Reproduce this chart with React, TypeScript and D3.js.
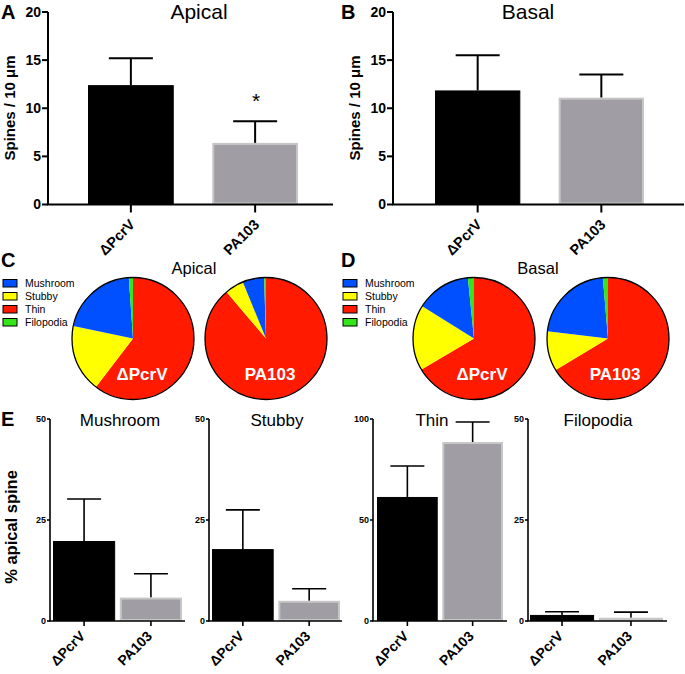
import React from "react";
import * as d3 from "d3";

// ---------- DATA ----------
const groups = ["ΔPcrV", "PA103"];

// Panel A/B: spine density (spines / 10 µm), mean and error (SEM)
const apicalDensity = [12.4, 6.4];
const apicalDensityErr = [2.8, 2.25];
const basalDensity = [11.85, 11.1];
const basalDensityErr = [3.65, 2.4];
const densityTicks = [0, 5, 10, 15, 20];

// Panel C/D: spine type fractions (%)
const spineTypes = ["Mushroom", "Stubby", "Thin", "Filopodia"];
const pieApicalPcrV = [20.6, 17.9, 60.4, 1.1];
const pieApicalPA103 = [5.7, 5.0, 88.8, 0.5];
const pieBasalPcrV = [14.5, 17.4, 66.5, 1.6];
const pieBasalPA103 = [21.75, 10.5, 66.4, 1.35];
// clockwise drawing order from 12 o'clock
const pieOrder = ["Thin", "Stubby", "Mushroom", "Filopodia"];

// Panel E: % apical spine by type, [ΔPcrV, PA103]
const mushroomPct = [19.8, 5.8];
const mushroomErr = [10.4, 5.9];
const stubbyPct = [17.8, 5.0];
const stubbyErr = [9.7, 3.0];
const thinPct = [61.4, 88.6];
const thinErr = [15.3, 9.9];
const filopodiaPct = [1.5, 0.8];
const filopodiaErr = [0.8, 1.4];
const pctTicks50 = [0, 25, 50];
const pctTicks100 = [0, 50, 100];

// ---------- STYLE ----------
const FONT = "Arial, 'Liberation Sans', Helvetica, sans-serif";
const typeColors: Record<string, string> = {
  Mushroom: "#0050ff",
  Stubby: "#ffff00",
  Thin: "#ff1a00",
  Filopodia: "#33e61a",
};
const barFill = ["#000000", "#a09ea4"];
const barStroke = ["#000000", "#c6c6c6"];

type BarProps = {
  values: number[];
  errors: number[];
  ticks: number[];
  axisX: number;
  top: number;
  bottom: number;
  axisEnd: number;
  bandStart: number;
  bandEnd: number;
  pad: number;
  capW: number;
  lw: number;
  tickFont: number;
  tickLen: number;
  xTickLen: number;
  labelDx: number;
  labelDy: number;
  labelFont: number;
  title: string;
  titleX: number;
  titleY: number;
  titleFont: number;
};

function BarPanel(p: BarProps) {
  const y = d3
    .scaleLinear()
    .domain([0, p.ticks[p.ticks.length - 1]])
    .range([p.bottom, p.top]);
  const x = d3
    .scaleBand<string>()
    .domain(groups)
    .range([p.bandStart, p.bandEnd])
    .paddingInner(p.pad)
    .paddingOuter(0);
  const bw = x.bandwidth();
  return (
    <g fontFamily={FONT}>
      {groups.map((g, i) => {
        const x0 = x(g)!;
        const sw = i === 0 ? 1 : 2;
        return (
          <g key={g}>
            <line
              x1={x0 + bw / 2}
              x2={x0 + bw / 2}
              y1={y(p.values[i])}
              y2={y(p.values[i] + p.errors[i])}
              stroke="#000"
              strokeWidth={p.lw}
            />
            <line
              x1={x0 + bw / 2 - p.capW / 2}
              x2={x0 + bw / 2 + p.capW / 2}
              y1={y(p.values[i] + p.errors[i])}
              y2={y(p.values[i] + p.errors[i])}
              stroke="#000"
              strokeWidth={p.lw}
            />
            <rect
              x={x0 + sw / 2}
              y={y(p.values[i]) + sw / 2}
              width={bw - sw}
              height={Math.max(0, p.bottom - y(p.values[i]) - sw)}
              fill={barFill[i]}
              stroke={barStroke[i]}
              strokeWidth={sw}
            />
          </g>
        );
      })}
      {/* y axis */}
      <line x1={p.axisX} x2={p.axisX} y1={p.top} y2={p.bottom} stroke="#000" strokeWidth={p.lw} />
      {p.ticks.map((t) => (
        <g key={t}>
          <line
            x1={p.axisX - p.tickLen}
            x2={p.axisX}
            y1={y(t)}
            y2={y(t)}
            stroke="#000"
            strokeWidth={p.lw}
          />
          <text
            x={p.axisX - p.tickLen - 1}
            y={y(t)}
            dy="0.35em"
            textAnchor="end"
            fontWeight="bold"
            fontSize={p.tickFont}
          >
            {t}
          </text>
        </g>
      ))}
      {/* x axis */}
      <line x1={p.axisX - p.lw / 2} x2={p.axisEnd} y1={p.bottom} y2={p.bottom} stroke="#000" strokeWidth={p.lw} />
      {groups.map((g) => {
        const cx = x(g)! + bw / 2;
        return (
          <g key={g}>
            <line x1={cx} x2={cx} y1={p.bottom} y2={p.bottom + p.xTickLen} stroke="#000" strokeWidth={p.lw} />
            <text
              transform={`translate(${cx + p.labelDx},${p.bottom + p.labelDy}) rotate(-45)`}
              textAnchor="end"
              fontWeight="bold"
              fontSize={p.labelFont}
            >
              {g}
            </text>
          </g>
        );
      })}
      <text x={p.titleX} y={p.titleY} textAnchor="middle" fontSize={p.titleFont}>
        {p.title}
      </text>
    </g>
  );
}

function Pie({ cx, cy, r, values, label, ldx }: { cx: number; cy: number; r: number; values: number[]; label: string; ldx: number }) {
  const data = pieOrder.map((name) => ({ name, v: values[spineTypes.indexOf(name)] }));
  const arcs = d3
    .pie<{ name: string; v: number }>()
    .sort(null)
    .value((d) => d.v)(data);
  const arc = d3.arc<d3.PieArcDatum<{ name: string; v: number }>>().innerRadius(0).outerRadius(r);
  return (
    <g transform={`translate(${cx},${cy})`}>
      {arcs.map((a) => (
        <path key={a.data.name} d={arc(a) || ""} fill={typeColors[a.data.name]} />
      ))}
      <circle r={r} fill="none" stroke="#000" strokeWidth={1.3} />
      <text x={ldx} y={41.5} textAnchor="middle" fill="#fff" fontWeight="bold" fontSize={17} fontFamily={FONT}>
        {label}
      </text>
    </g>
  );
}

function Legend({ x, y }: { x: number; y: number }) {
  return (
    <g fontFamily={FONT}>
      {spineTypes.map((s, i) => (
        <g key={s} transform={`translate(${x},${y + i * 13})`}>
          <rect x={0} y={-3.5} width={14} height={7.5} fill={typeColors[s]} stroke="#000" strokeWidth={1} />
          <text x={22} y={0} dy="0.35em" fontSize={10.5}>
            {s}
          </text>
        </g>
      ))}
    </g>
  );
}

export default function App() {
  const big = {
    ticks: densityTicks,
    top: 12,
    bottom: 204.5,
    pad: 0.31,
    capW: 44,
    lw: 2,
    tickFont: 14,
    tickLen: 6,
    xTickLen: 8,
    labelDx: 5,
    labelDy: 21,
    labelFont: 14.5,
    titleY: 19,
    titleFont: 21,
  };
  const small = {
    top: 419,
    bottom: 621,
    pad: 0.07,
    capW: 34,
    lw: 1.6,
    tickFont: 9,
    tickLen: 3,
    xTickLen: 5,
    labelDx: 2,
    labelDy: 16,
    labelFont: 14,
    titleY: 426,
    titleFont: 17,
  };
  return (
    <svg
      width={685}
      height={674}
      style={{ position: "absolute", left: 0, top: 0, background: "#fff" }}
      fontFamily={FONT}
    >
      <rect width={685} height={674} fill="#fff" />
      {/* Panel letters */}
      <g fontWeight="bold" fontSize={20} fontFamily={FONT}>
        <text x={1} y={19}>A</text>
        <text x={341} y={19}>B</text>
        <text x={1} y={267}>C</text>
        <text x={341} y={267}>D</text>
        <text x={1} y={426}>E</text>
      </g>

      {/* A */}
      <BarPanel
        {...big}
        values={apicalDensity}
        errors={apicalDensityErr}
        axisX={48}
        axisEnd={333}
        bandStart={88}
        bandEnd={298}
        title="Apical"
        titleX={199}
      />
      <text x={256} y={108} textAnchor="middle" fontSize={21}>*</text>
      <text transform="translate(15,108) rotate(-90)" textAnchor="middle" fontWeight="bold" fontSize={15}>
        Spines / 10 μm
      </text>

      {/* B */}
      <BarPanel
        {...big}
        values={basalDensity}
        errors={basalDensityErr}
        axisX={393}
        axisEnd={684}
        bandStart={435}
        bandEnd={644}
        title="Basal"
        titleX={528}
      />
      <text transform="translate(360,108) rotate(-90)" textAnchor="middle" fontWeight="bold" fontSize={15}>
        Spines / 10 μm
      </text>

      {/* C */}
      <Legend x={3} y={283} />
      <text x={194} y={274} textAnchor="middle" fontSize={16.5}>Apical</text>
      <Pie cx={133} cy={338.5} r={61} values={pieApicalPcrV} label="ΔPcrV" ldx={9} />
      <Pie cx={266} cy={338.5} r={61} values={pieApicalPA103} label="PA103" ldx={4} />

      {/* D */}
      <Legend x={343} y={283} />
      <text x={538} y={274} textAnchor="middle" fontSize={16.5}>Basal</text>
      <Pie cx={474} cy={338.5} r={61} values={pieBasalPcrV} label="ΔPcrV" ldx={8} />
      <Pie cx={608} cy={338.5} r={61} values={pieBasalPA103} label="PA103" ldx={7} />

      {/* E */}
      <text transform="translate(17,527) rotate(-90)" textAnchor="middle" fontWeight="bold" fontSize={16.5}>
        % apical spine
      </text>
      <BarPanel {...small} ticks={pctTicks50} values={mushroomPct} errors={mushroomErr}
        axisX={50} axisEnd={185} bandStart={53} bandEnd={182} title="Mushroom" titleX={120} />
      <BarPanel {...small} ticks={pctTicks50} values={stubbyPct} errors={stubbyErr}
        axisX={209} axisEnd={342} bandStart={212} bandEnd={340} title="Stubby" titleX={277} />
      <BarPanel {...small} ticks={pctTicks100} values={thinPct} errors={thinErr}
        axisX={373} axisEnd={507} bandStart={377} bandEnd={503} title="Thin" titleX={432} />
      <BarPanel {...small} ticks={pctTicks50} values={filopodiaPct} errors={filopodiaErr}
        axisX={528} axisEnd={667} bandStart={530} bandEnd={663} title="Filopodia" titleX={598} />
    </svg>
  );
}
